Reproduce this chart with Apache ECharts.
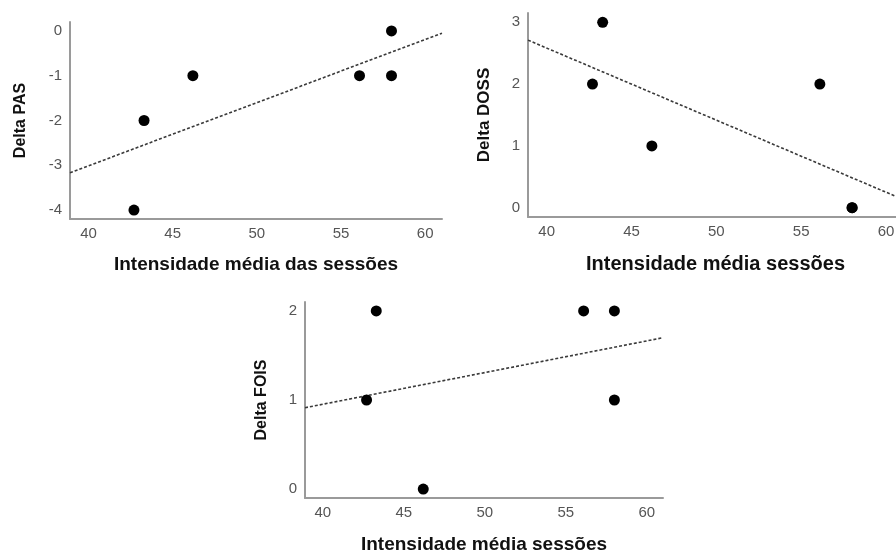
<!DOCTYPE html>
<html>
<head>
<meta charset="utf-8">
<script src="https://cdn.jsdelivr.net/npm/echarts@6/dist/echarts.min.js"></script>
<style>
  html, body { margin: 0; padding: 0; background: #fff; }
  #chart { width: 896px; height: 554px; }
</style>
</head>
<body>
<div id="chart"></div>
<script>
  // intensidade média das sessões (mesmos 6 participantes nos três gráficos)
  const intensidade = [42.7, 43.3, 46.2, 56.1, 58.0, 58.0];
  const deltaPAS = [-4, -2, -1, -1, 0, -1];
  const deltaDOSS = [2, 3, 1, 2, 0, 0];
  const deltaFOIS = [1, 2, 0, 2, 2, 1];

  const xTicks = [40, 45, 50, 55, 60];
  const pasTicks = [-4, -3, -2, -1, 0];
  const dossTicks = [0, 1, 2, 3];
  const foisTicks = [0, 1, 2];

  const X_MIN = 38.9;
  const X_MAX = 61;

  // reta de regressão (mínimos quadrados)
  function fitLine(xs, ys) {
    const n = xs.length;
    const mx = xs.reduce((a, b) => a + b, 0) / n;
    const my = ys.reduce((a, b) => a + b, 0) / n;
    let sxy = 0, sxx = 0;
    for (let i = 0; i < n; i++) {
      sxy += (xs[i] - mx) * (ys[i] - my);
      sxx += (xs[i] - mx) * (xs[i] - mx);
    }
    const b = sxy / sxx;
    const a = my - b * mx;
    return [[X_MIN, a + b * X_MIN], [X_MAX, a + b * X_MAX]];
  }

  function pairs(xs, ys) {
    return xs.map((x, i) => [x, ys[i]]);
  }

  const labelColor = '#555';
  const titleColor = '#111';

  function xAxis(idx, name, gap, size) {
    return {
      type: 'value',
      gridIndex: idx,
      min: X_MIN,
      max: X_MAX,
      name: name,
      nameLocation: 'middle',
      nameGap: gap,
      nameMoveOverlap: false,
      nameTextStyle: { color: titleColor, fontWeight: 'bold', fontSize: size, fontFamily: 'Liberation Sans' },
      axisLine: { show: true, onZero: false, lineStyle: { color: '#9a9a9a', width: 2 } },
      axisTick: { show: false },
      splitLine: { show: false },
      axisLabel: {
        customValues: xTicks,
        color: labelColor,
        fontSize: 15,
        margin: 7,
        fontFamily: 'Liberation Sans',
      },
    };
  }

  function yAxis(idx, name, min, max, ticks, gap, size) {
    return {
      type: 'value',
      gridIndex: idx,
      min: min,
      max: max,
      name: name,
      nameLocation: 'middle',
      nameGap: gap,
      nameRotate: 90,
      nameMoveOverlap: false,
      nameTextStyle: { color: titleColor, fontWeight: 'bold', fontSize: size, fontFamily: 'Liberation Sans' },
      axisLine: { show: true, onZero: false, lineStyle: { color: '#9a9a9a', width: 2 } },
      axisTick: { show: false },
      splitLine: { show: false },
      axisLabel: {
        customValues: ticks,
        color: labelColor,
        fontSize: 15,
        margin: 8,
        fontFamily: 'Liberation Sans',
      },
    };
  }

  function dots(idx, ys) {
    return {
      type: 'scatter',
      xAxisIndex: idx,
      yAxisIndex: idx,
      data: pairs(intensidade, ys),
      symbolSize: 11,
      itemStyle: { color: '#000', opacity: 1 },
      z: 3,
    };
  }

  function trend(idx, ys) {
    return {
      type: 'line',
      xAxisIndex: idx,
      yAxisIndex: idx,
      data: fitLine(intensidade, ys),
      showSymbol: false,
      silent: true,
      lineStyle: { color: '#3a3a3a', width: 1.6, type: [3, 2] },
      z: 2,
    };
  }

  const myChart = echarts.init(document.getElementById('chart'), null, { renderer: 'canvas' });
  myChart.setOption({
    animation: false,
    backgroundColor: '#fff',
    grid: [
      { left: 70, top: 22, width: 372, height: 197, outerBoundsMode: 'none' },
      { left: 528, top: 13, width: 375, height: 204, outerBoundsMode: 'none' },
      { left: 305, top: 302, width: 358, height: 196, outerBoundsMode: 'none' },
    ],
    xAxis: [
      xAxis(0, 'Intensidade média das sessões', 36, 19),
      xAxis(1, 'Intensidade média sessões', 37, 20),
      xAxis(2, 'Intensidade média sessões', 37, 19),
    ],
    yAxis: [
      yAxis(0, 'Delta PAS', -4.2, 0.2, pasTicks, 41, 16),
      yAxis(1, 'Delta DOSS', -0.15, 3.15, dossTicks, 35, 17),
      yAxis(2, 'Delta FOIS', -0.1, 2.1, foisTicks, 35, 16),
    ],
    series: [
      trend(0, deltaPAS),
      dots(0, deltaPAS),
      trend(1, deltaDOSS),
      dots(1, deltaDOSS),
      trend(2, deltaFOIS),
      dots(2, deltaFOIS),
    ],
  });
</script>
</body>
</html>
